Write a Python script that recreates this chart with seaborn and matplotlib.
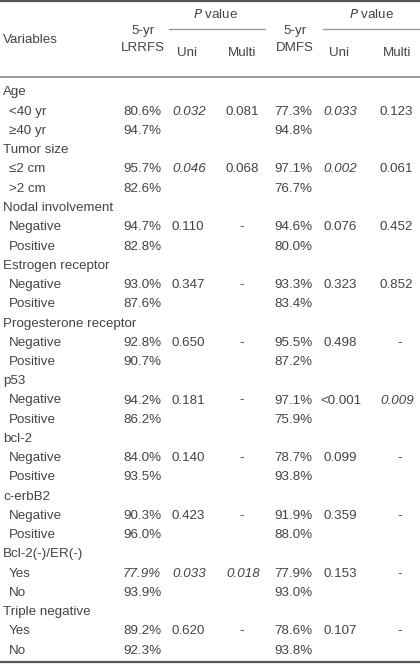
import matplotlib
matplotlib.use("Agg")
import matplotlib.pyplot as plt
import seaborn as sns

sns.set_theme(style="white")
plt.rcParams['font.family'] = ['Liberation Sans', 'DejaVu Sans']

# ---- data ----
groups = ["Age", "Tumor size", "Nodal involvement", "Estrogen receptor",
          "Progesterone receptor", "p53", "bcl-2", "c-erbB2",
          "Bcl-2(-)/ER(-)", "Triple negative"]
sublabels = [["<40 yr", "\u226540 yr"], ["\u22642 cm", ">2 cm"],
             ["Negative", "Positive"], ["Negative", "Positive"],
             ["Negative", "Positive"], ["Negative", "Positive"],
             ["Negative", "Positive"], ["Negative", "Positive"],
             ["Yes", "No"], ["Yes", "No"]]
lrrfs = [["80.6%", "94.7%"], ["95.7%", "82.6%"], ["94.7%", "82.8%"],
         ["93.0%", "87.6%"], ["92.8%", "90.7%"], ["94.2%", "86.2%"],
         ["84.0%", "93.5%"], ["90.3%", "96.0%"], ["77.9%", "93.9%"],
         ["89.2%", "92.3%"]]
lrrfs_uni = ["0.032", "0.046", "0.110", "0.347", "0.650", "0.181", "0.140",
             "0.423", "0.033", "0.620"]
lrrfs_multi = ["0.081", "0.068", "-", "-", "-", "-", "-", "-", "0.018", "-"]
dmfs = [["77.3%", "94.8%"], ["97.1%", "76.7%"], ["94.6%", "80.0%"],
        ["93.3%", "83.4%"], ["95.5%", "87.2%"], ["97.1%", "75.9%"],
        ["78.7%", "93.8%"], ["91.9%", "88.0%"], ["77.9%", "93.0%"],
        ["78.6%", "93.8%"]]
dmfs_uni = ["0.033", "0.002", "0.076", "0.323", "0.498", "<0.001", "0.099",
            "0.359", "0.153", "0.107"]
dmfs_multi = ["0.123", "0.061", "0.452", "0.852", "-", "0.009", "-", "-",
              "-", "-"]
# italic (significant) flags
lrrfs_italic = [False, False, False, False, False, False, False, False, True, False]
lrrfs_uni_italic = [True, True, False, False, False, False, False, False, True, False]
lrrfs_multi_italic = [False, False, False, False, False, False, False, False, True, False]
dmfs_uni_italic = [True, True, False, False, False, False, False, False, False, False]
dmfs_multi_italic = [False, False, False, False, False, True, False, False, False, False]

# ---- layout ----
W, H = 420, 668
fig = plt.figure(figsize=(W / 100, H / 100), dpi=100)
ax = fig.add_axes([0, 0, 1, 1])
ax.set_xlim(0, W)
ax.set_ylim(H, 0)
ax.axis("off")

col = "#444444"
fs = 9.6
kw = dict(color=col, fontsize=fs, va="center")

# rules
ax.plot([0, W], [1.2, 1.2], color="#555555", lw=1.6)
ax.plot([0, W], [77, 77], color="#888888", lw=1.2)
ax.plot([0, W], [662, 662], color="#555555", lw=1.6)
ax.plot([169, 265], [29, 29], color="#999999", lw=1.0)
ax.plot([323, W], [29, 29], color="#999999", lw=1.0)

# header
ax.text(3, 40, "Variables", ha="left", **kw)
ax.text(143, 31, "5-yr", ha="center", **kw)
ax.text(143, 48, "LRRFS", ha="center", **kw)
ax.text(295, 31, "5-yr", ha="center", **kw)
ax.text(295, 48, "DMFS", ha="center", **kw)
for cx in (216, 372):
    ax.text(cx, 14, "$\\it{P}$ value", ha="center", **kw)
ax.text(187, 53, "Uni", ha="center", **kw)
ax.text(242, 53, "Multi", ha="center", **kw)
ax.text(339, 53, "Uni", ha="center", **kw)
ax.text(397, 53, "Multi", ha="center", **kw)

# body
y0, dy = 92.5, 19.25
r = 0
for gi, g in enumerate(groups):
    ax.text(3, y0 + r * dy, g, ha="left", **kw)
    r += 1
    for si in range(2):
        y = y0 + r * dy
        ax.text(9, y, sublabels[gi][si], ha="left", **kw)
        it = lrrfs_italic[gi] and si == 0
        ax.text(123, y, lrrfs[gi][si], ha="left",
                style="italic" if it else "normal", **kw)
        ax.text(274, y, dmfs[gi][si], ha="left", **kw)
        if si == 0:
            ax.text(172, y, lrrfs_uni[gi], ha="left",
                    style="italic" if lrrfs_uni_italic[gi] else "normal", **kw)
            m = lrrfs_multi[gi]
            if m == "-":
                ax.text(242, y, m, ha="center", **kw)
            else:
                ax.text(226, y, m, ha="left",
                        style="italic" if lrrfs_multi_italic[gi] else "normal", **kw)
            u = dmfs_uni[gi]
            ax.text(323 if not u.startswith("<") else 320, y, u, ha="left",
                    style="italic" if dmfs_uni_italic[gi] else "normal", **kw)
            m = dmfs_multi[gi]
            if m == "-":
                ax.text(400, y, m, ha="center", **kw)
            else:
                ax.text(380, y, m, ha="left",
                        style="italic" if dmfs_multi_italic[gi] else "normal", **kw)
        r += 1

fig.savefig("out.png", dpi=100, facecolor="white")
